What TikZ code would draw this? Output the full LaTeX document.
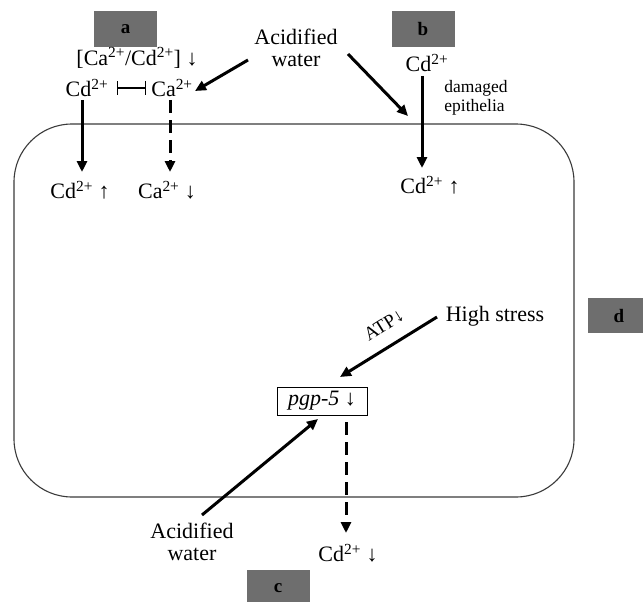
\documentclass[tikz,border=0pt]{standalone}
\usepackage{fontspec}
\setmainfont{Liberation Serif}
\usetikzlibrary{arrows.meta,calc}
\definecolor{labelgray}{HTML}{6E6E6E}
\definecolor{cellline}{HTML}{3A3A3A}
\begin{document}
\begin{tikzpicture}[x=1pt,y=-1pt,
  font=\fontsize{22}{22}\selectfont,
  every node/.style={inner sep=2pt},
  lbl/.style={fill=labelgray, inner sep=0pt, minimum width=63pt, minimum height=36pt, font=\fontsize{19}{20}\selectfont\bfseries},
  arr/.style={line width=3pt, -{Triangle[length=11pt,width=10pt]}},
  darr/.style={arr, dash pattern=on 13pt off 7pt},
  inhib/.style={line width=1.1pt, {Bar[width=14pt,line width=1.1pt]}-{Bar[width=14pt,line width=1.1pt]}},
  txt/.style={align=center}]
\useasboundingbox (0,0) rectangle (643,602);
% cell outline
\node[draw=cellline, line width=1.1pt, rounded corners=58pt, minimum width=560pt, minimum height=373pt, inner sep=0pt] (cell) at (294,310.5) {};
% panel labels
\node[lbl] (la) at (125.5,29) {a};
\node[lbl] (lb) at (423,29) {b};
\node[lbl, minimum height=36pt] (lc) at (278,588) {c};
\node[lbl, minimum width=62pt, minimum height=35pt] (ld) at (619,315.5) {d};
% panel a
\node (ratio) at (137,58) {[Ca\textsuperscript{2+}/Cd\textsuperscript{2+}] ↓};
\node (cda) at (87,88) {Cd\textsuperscript{2+}};
\node (caa) at (172,88) {Ca\textsuperscript{2+}};
\node[txt] (aw1) at (296,48) {Acidified\\water};
\node (cdi1) at (80,190) {Cd\textsuperscript{2+} ↑};
\node (cai1) at (167,190) {Ca\textsuperscript{2+} ↓};
\draw[inhib] ($(cda)+(30,0)$) -- ($(caa)+(-26,0)$);
\draw[arr] ($(aw1)+(-48,12)$) -- ($(caa)+(23,3)$);
\draw[arr] ($(cda)+(-5,12)$) -- ($(cdi1)+(2,-18)$);
\draw[darr] ($(caa)+(-2,12)$) -- ($(cai1)+(3,-18)$);
% panel b
\coordinate (entry) at (408,116);
\node (cdb) at (427,63) {Cd\textsuperscript{2+}};
\node[align=left, font=\fontsize{17.5}{19}\selectfont] (dam) at (476,98) {damaged\\epithelia};
\node (cdb2) at (430,185) {Cd\textsuperscript{2+} ↑};
\draw[arr] ($(aw1)+(52,6)$) -- (entry);
\draw[arr] ($(cdb)+(-5,13)$) -- ($(cdb2)+(-8,-17)$);
% panel d
\node (hs) at (495,316) {High stress};
\node[draw, line width=1pt, minimum width=90pt, minimum height=28pt, inner sep=0pt] (pgp) at (322,401) {\textit{pgp-5} ↓};
\node[rotate=32, font=\fontsize{19}{20}\selectfont] (atp) at (384,325) {ATP↓};
\draw[arr] ($(hs)+(-58,1)$) -- ($(pgp)+(18,-24)$);
% panel c
\node[txt] (aw2) at (192,542) {Acidified\\water};
\node (cdc) at (348,553) {Cd\textsuperscript{2+} ↓};
\draw[arr] ($(aw2)+(10,-27)$) -- ($(pgp)+(-4,18)$);
\draw[darr] ($(pgp)+(24,21)$) -- ($(cdc)+(-2,-20)$);
\end{tikzpicture}
\end{document}
